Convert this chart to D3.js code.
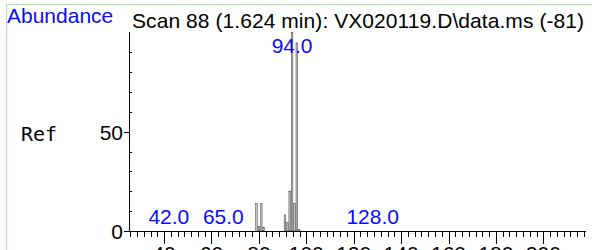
<!DOCTYPE html>
<html>
<head>
  <meta charset="UTF-8" />
  <script src="https://d3js.org/d3.v7.min.js"></script>
  <style>
    html, body { margin: 0; padding: 0; background: #fff; overflow: hidden; }
    svg { display: block; }
    text { font-family: "Liberation Sans", Arial, sans-serif; font-size: 21px; }
    .blue { fill: #0a0aff; }
    .ref { font-family: "DejaVu Sans Mono", monospace; font-size: 20px; }
    .axis line, .axis path { stroke: #000; shape-rendering: crispEdges; }
  </style>
</head>
<body>
  <svg width="592" height="250"></svg>
  <script>
    // spectrum (m/z vs abundance)
    const mzValues   = [79, 80, 81, 82, 91, 92, 93, 94, 95, 96, 97];
    const abundances = [13.9, 2.2, 13.9, 1.9, 8.1, 4.2, 20.1, 100, 13.9, 94.7, 0.9];
    // labelled ions
    const labelMz    = [42, 65, 94, 128];
    const labelAbund = [0, 0, 100, 0];
    const labelText  = ["42.0", "65.0", "94.0", "128.0"];
    const xMajorTicks = [40, 60, 80, 100, 120, 140, 160, 180, 200];
    const yMajorTicks = [0, 50];
    const yMinorTicks = [10, 20, 30, 40, 60, 70, 80, 90];

    const title = "Scan 88 (1.624 min): VX020119.D\\data.ms (-81)";

    const svg = d3.select("svg");

    // frame (light green)
    svg.append("line").attr("x1", 6.5).attr("x2", 6.5).attr("y1", 4).attr("y2", 250)
      .attr("stroke", "#9ef09e").attr("stroke-width", 1);
    svg.append("line").attr("x1", 6).attr("x2", 592).attr("y1", 4.5).attr("y2", 4.5)
      .attr("stroke", "#9ef09e").attr("stroke-width", 1);

    const x = d3.scaleLinear().domain([25.2, 218]).range([129, 586]);
    const y = d3.scaleLinear().domain([0, 100]).range([231, 32.4]);

    // headers
    svg.append("text").attr("class", "blue").attr("x", 7).attr("y", 23).text("Abundance");
    svg.append("text").attr("x", 132).attr("y", 28).attr("textLength", 452).text(title);
    svg.append("text").attr("class", "ref").attr("x", 21).attr("y", 141).text("Ref");

    // x axis
    const gx = svg.append("g").attr("class", "axis");
    gx.append("line").attr("x1", x.range()[0]).attr("x2", x.range()[1])
      .attr("y1", y(0) + 0.5).attr("y2", y(0) + 0.5);
    const step = 20 / 7;
    const minor = [];
    for (let v = 40 - step * Math.floor((40 - 25.2) / step); v <= 218; v += step) minor.push(v);
    gx.selectAll("line.minor").data(minor).enter().append("line").attr("class", "minor")
      .attr("x1", d => Math.round(x(d)) + 0.5).attr("x2", d => Math.round(x(d)) + 0.5)
      .attr("y1", y(0)).attr("y2", y(0) + 6);
    gx.selectAll("line.major").data(xMajorTicks).enter().append("line").attr("class", "major")
      .attr("x1", d => Math.round(x(d)) + 0.5).attr("x2", d => Math.round(x(d)) + 0.5)
      .attr("y1", y(0)).attr("y2", y(0) + 13);
    gx.selectAll("text").data(xMajorTicks).enter().append("text")
      .attr("x", d => x(d)).attr("y", 261).attr("text-anchor", "middle").text(d => d);

    // y axis
    const gy = svg.append("g").attr("class", "axis");
    gy.append("line").attr("x1", 129.5).attr("x2", 129.5).attr("y1", y(100)).attr("y2", y(0) + 1);
    gy.selectAll("line.major").data(yMajorTicks).enter().append("line").attr("class", "major")
      .attr("x1", 124).attr("x2", 129.5)
      .attr("y1", d => Math.round(y(d)) + 0.5).attr("y2", d => Math.round(y(d)) + 0.5);
    gy.selectAll("line.minor").data(yMinorTicks).enter().append("line").attr("class", "minor")
      .attr("x1", 129.5).attr("x2", 132)
      .attr("y1", d => Math.round(y(d)) + 0.5).attr("y2", d => Math.round(y(d)) + 0.5);
    gy.selectAll("text").data(yMajorTicks).enter().append("text")
      .attr("x", 123).attr("y", d => y(d) + 8).attr("text-anchor", "end").text(d => d);

    // peaks
    const peaks = mzValues.map((m, i) => ({ mz: m, ab: abundances[i] }));
    svg.selectAll("rect.peak").data(peaks).enter().append("rect").attr("class", "peak")
      .attr("x", d => x(d.mz) - 0.8).attr("width", 1.6)
      .attr("y", d => y(d.ab)).attr("height", d => y(0) - y(d.ab))
      .attr("fill", "#c8c8c8").attr("stroke", "#3a3a3a").attr("stroke-width", 0.5);

    // ion labels
    const labels = labelMz.map((m, i) => ({ mz: m, ab: labelAbund[i], t: labelText[i] }));
    svg.selectAll("text.ion").data(labels).enter().append("text").attr("class", "ion blue")
      .attr("x", d => x(d.mz)).attr("y", d => Math.max(y(d.ab) - 7, 53))
      .attr("text-anchor", "middle").text(d => d.t);
  </script>
</body>
</html>
